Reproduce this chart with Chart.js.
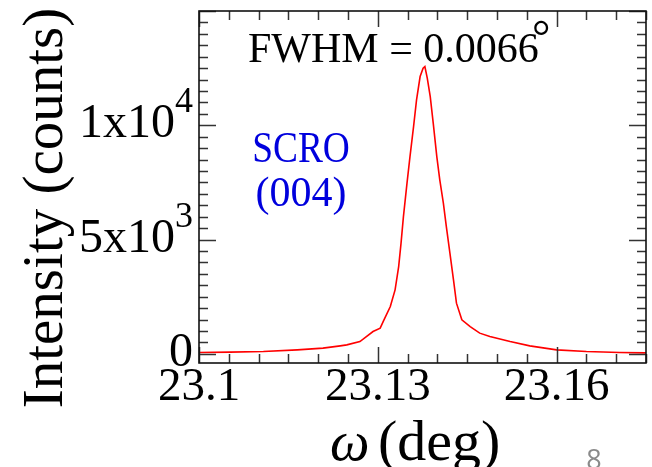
<!DOCTYPE html>
<html>
<head>
<meta charset="utf-8">
<script src="https://cdn.jsdelivr.net/npm/chart.js@4.4.1/dist/chart.umd.min.js"></script>
<style>
  html, body { margin:0; padding:0; background:#fff; }
  #wrap { width:652px; height:467px; position:relative; }
</style>
</head>
<body>
<div id="wrap"><canvas id="chart"></canvas></div>
<script>
/* ── DATA ────────────────────────────────────────────────── */
const omega = [
  23.1000, 23.1052, 23.1108, 23.1165, 23.1208, 23.1237, 23.1248, 23.1270,
  23.1292, 23.1304, 23.1309, 23.1321, 23.1329, 23.1335, 23.1339, 23.1343,
  23.1349, 23.1354, 23.1360, 23.1365, 23.1371, 23.1376, 23.1379, 23.1383,
  23.1388, 23.1393, 23.1399, 23.1404, 23.1410, 23.1415, 23.1421, 23.1427,
  23.1432, 23.1441, 23.1455, 23.1471, 23.1488, 23.1522, 23.1555, 23.1600,
  23.1650, 23.1706, 23.1750
];
const counts = [
    57,    74,   100,   175,   250,   350,   394,   538,
   976,  1124,  1413,  2069,  2800,  3819,  4843,  6007,
  7468,  8632,  9944, 11113, 12132, 12499, 12569, 12062,
 11257, 10093,  8632,  7613,  6593,  5569,  4406,  3238,
  2218,  1488,  1194,   906,   757,   538,   350,   175,
   100,    57,    44
];

const xTicks      = [23.1, 23.13, 23.16];
const xTickLabels = ['23.1', '23.13', '23.16'];
const yTicks      = [0, 5000, 10000];
const yTickBase   = ['0', '5x10', '1x10'];
const yTickExp    = ['', '3', '4'];

const xMin = 23.1, xMax = 23.175, xMinorStep = 0.005, xMinorPerMajor = 6;
const yMin = -400, yMax = 15000, yMinorStep = 500, yMinorPerMajor = 10;

const SERIF = '"Liberation Serif", "Times New Roman", serif';

/* ── FRAME + INWARD TICKS ON ALL FOUR SIDES ──────────────── */
const framePlugin = {
  id: 'frame',
  afterDatasetsDraw(chart) {
    const { ctx, chartArea: a, scales: { x, y } } = chart;
    ctx.save();
    ctx.strokeStyle = '#333';
    ctx.lineWidth = 1.5;
    ctx.beginPath();
    const nx = Math.round((xMax - xMin) / xMinorStep);
    for (let i = 0; i <= nx; i++) {
      const px = Math.round(x.getPixelForValue(xMin + i * xMinorStep)) + 0.5;
      const len = i % xMinorPerMajor === 0 ? 16 : 9;
      ctx.moveTo(px, a.bottom); ctx.lineTo(px, a.bottom - len);
      ctx.moveTo(px, a.top);    ctx.lineTo(px, a.top + len);
    }
    const ny = Math.floor(yMax / yMinorStep);
    for (let i = 0; i <= ny; i++) {
      const py = Math.round(y.getPixelForValue(i * yMinorStep)) + 0.5;
      const len = i % yMinorPerMajor === 0 ? 17 : 9;
      ctx.moveTo(a.left, py);  ctx.lineTo(a.left + len, py);
      ctx.moveTo(a.right, py); ctx.lineTo(a.right - len, py);
    }
    ctx.stroke();
    ctx.strokeStyle = '#111';
    ctx.lineWidth = 1.6;
    ctx.strokeRect(a.left, a.top, a.right - a.left, a.bottom - a.top);
    ctx.restore();
  }
};

/* ── TEXT: y labels with exponents, titles, notes ────────── */
const textPlugin = {
  id: 'texts',
  afterDraw(chart) {
    const { ctx, scales: { y } } = chart;
    ctx.save();
    ctx.fillStyle = '#000';
    ctx.textBaseline = 'alphabetic';

    // y tick labels, right aligned against the axis
    yTicks.forEach((v, i) => {
      const py = y.getPixelForValue(v);
      ctx.font = `36px ${SERIF}`;
      const expW = yTickExp[i] ? ctx.measureText(yTickExp[i]).width : 0;
      const right = 193;
      if (yTickExp[i]) {
        ctx.textAlign = 'right';
        ctx.fillText(yTickExp[i], right, py - 13);
      }
      ctx.font = `48px ${SERIF}`;
      ctx.textAlign = 'right';
      ctx.fillText(yTickBase[i], right - expW, py + 12);
    });

    // y title
    ctx.save();
    ctx.translate(62, 208);
    ctx.rotate(-Math.PI / 2);
    ctx.textAlign = 'center';
    ctx.font = `57px ${SERIF}`;
    ctx.fillText('Intensity (counts)', 0, 0);
    ctx.restore();

    // x title: italic omega + (deg)
    ctx.textAlign = 'left';
    ctx.font = `italic 56px ${SERIF}`;
    ctx.fillText('ω', 330, 460);
    ctx.font = `58px ${SERIF}`;
    ctx.fillText('(deg)', 378, 460);

    // FWHM note
    ctx.font = `42px ${SERIF}`;
    ctx.fillText('FWHM = 0.0066', 248, 62);
    ctx.font = `46px ${SERIF}`;
    ctx.fillText('°', 532, 52);

    // sample label
    ctx.fillStyle = '#0000dd';
    ctx.textAlign = 'center';
    ctx.save();
    ctx.translate(301, 162);
    ctx.scale(0.85, 1);
    ctx.font = `44px ${SERIF}`;
    ctx.fillText('SCRO', 0, 0);
    ctx.restore();
    ctx.font = `42px ${SERIF}`;
    ctx.fillText('(004)', 301, 206);

    // page number
    ctx.fillStyle = '#8a8a8a';
    ctx.font = '27px "Open Sans", sans-serif';
    ctx.fillText('8', 594, 469);
    ctx.restore();
  }
};

/* ── CHART ───────────────────────────────────────────────── */
new Chart(document.getElementById('chart'), {
  type: 'line',
  data: {
    datasets: [{
      data: omega.map((w, i) => ({ x: w, y: counts[i] })),
      borderColor: 'rgb(255,0,0)',
      borderWidth: 1.6,
      pointRadius: 0,
      tension: 0,
      fill: false,
    }],
  },
  options: {
    responsive: true,
    maintainAspectRatio: false,
    animation: false,
    devicePixelRatio: 1,
    layout: { padding: { top: 11, right: 6, left: 0, bottom: 0 } },
    plugins: { legend: { display: false }, tooltip: { enabled: false } },
    scales: {
      x: {
        type: 'linear', min: xMin, max: xMax,
        grid: { display: false, drawTicks: false },
        border: { display: false },
        afterBuildTicks: s => { s.ticks = xTicks.map(v => ({ value: v })); },
        afterFit: s => { s.height = 104; },
        ticks: {
          autoSkip: false, maxRotation: 0, padding: -4,
          color: '#000', font: { family: SERIF, size: 47 },
          callback: v => xTickLabels[xTicks.indexOf(v)] ?? '',
        },
      },
      y: {
        type: 'linear', min: yMin, max: yMax,
        grid: { display: false, drawTicks: false },
        border: { display: false },
        ticks: { display: false },
        afterFit: s => { s.width = 199; },
      },
    },
  },
  plugins: [framePlugin, textPlugin],
});
</script>
</body>
</html>
